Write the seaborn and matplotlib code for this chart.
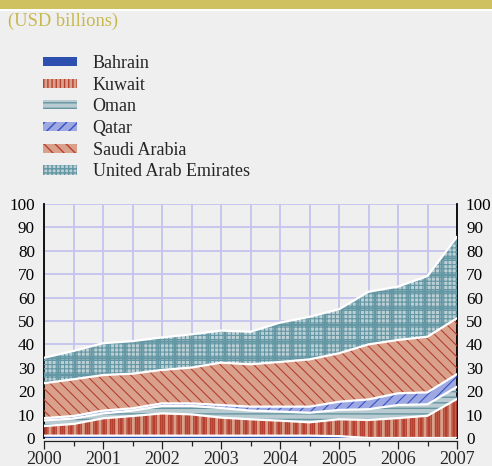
import numpy as np
import pandas as pd
import matplotlib
matplotlib.use("Agg")
import matplotlib.pyplot as plt
from matplotlib.patches import Patch, Rectangle
from matplotlib.ticker import MultipleLocator
import seaborn as sns

# ---- data (USD billions, half-yearly) ----
periods = [2000.0, 2000.5, 2001.0, 2001.5, 2002.0, 2002.5, 2003.0, 2003.5,
           2004.0, 2004.5, 2005.0, 2005.5, 2006.0, 2006.5, 2007.0]
countries = ["Bahrain", "Kuwait", "Oman", "Qatar", "Saudi Arabia", "United Arab Emirates"]
bahrain = [1.0, 1.0, 1.0, 1.0, 1.0, 1.0, 1.0, 1.0, 1.0, 1.0, 0.8, 0.0, 0.0, 0.0, 0.0]
kuwait = [4.1, 5.0, 7.4, 8.4, 9.5, 9.1, 7.7, 7.0, 6.4, 5.7, 7.2, 7.7, 8.5, 9.5, 16.7]
oman = [2.4, 2.3, 2.1, 2.3, 3.2, 3.6, 4.1, 3.7, 3.9, 4.1, 4.0, 4.6, 5.6, 4.9, 5.2]
qatar = [1.0, 1.1, 1.2, 1.0, 1.1, 1.1, 1.3, 1.7, 2.1, 2.6, 3.5, 4.2, 5.0, 5.1, 5.4]
saudi = [14.9, 15.7, 15.2, 14.8, 14.3, 15.3, 18.1, 18.1, 19.1, 20.2, 20.7, 23.5, 22.8, 23.8, 23.9]
uae = [10.9, 12.1, 13.6, 13.9, 13.9, 14.2, 13.7, 13.9, 16.8, 18.2, 18.8, 22.5, 22.8, 25.9, 34.8]
year_labels = ["2000", "2001", "2002", "2003", "2004", "2005", "2006", "2007"]

series = [bahrain, kuwait, oman, qatar, saudi, uae]

# ---- styles ----
fills = ["#2d50b0", "#d9a08c", "#b8cbd0", "#9ea8e2", "#d9a08c", "#bccfd5"]
hatch_cols = ["#2d50b0", "#b5402f", "#6796a3", "#3552c0", "#b5402f", "#6397a4"]
# (pattern, hatch linewidth) layers per series
hatch_layers = [
    [],
    [("||||", 0.9), ("||", 1.8)],
    [("---", 1.0)],
    [("///", 0.8)],
    [("\\\\\\", 0.8)],
    [("++++", 0.8), ("+", 1.6)],
]
BG = "#efefef"
GRID = "#c4c4ee"

sns.set_style("white")
plt.rcParams["font.family"] = ["Liberation Serif", "DejaVu Serif"]

fig = plt.figure(figsize=(4.92, 4.66), dpi=100, facecolor=BG)
ax = fig.add_axes([44 / 492, 1 - 438 / 466, (457 - 44) / 492, (438 - 204) / 466])
ax.set_facecolor(BG)

# header bar
fig.patches.append(Rectangle((0, 1 - 9 / 466), 1, 9 / 466, transform=fig.transFigure,
                             facecolor="#cfc060", edgecolor="none", zorder=0))
fig.patches.append(Rectangle((0, 1 - 11 / 466), 1, 2 / 466, transform=fig.transFigure,
                             facecolor="white", edgecolor="none", zorder=0))
fig.text(8 / 492, 1 - 21 / 466, "(USD billions)", color="#c8b850", fontsize=13.3,
         va="center", ha="left")

# stacked areas
x = np.array(periods)
cum = np.cumsum(np.array(series), axis=0)
lower = np.vstack([np.zeros(len(periods)), cum[:-1]])
for i, name in enumerate(countries):
    ax.fill_between(x, lower[i], cum[i], facecolor=fills[i], edgecolor="none",
                    linewidth=0, zorder=2)
    for pat, hlw in hatch_layers[i]:
        with plt.rc_context({"hatch.linewidth": hlw}):
            ax.fill_between(x, lower[i], cum[i], facecolor="none",
                            edgecolor=hatch_cols[i], hatch=pat, linewidth=0, zorder=3)

# white boundaries
df = pd.DataFrame({"period": np.tile(x, len(countries)),
                   "top": cum.ravel(),
                   "country": np.repeat(countries, len(periods))})
sns.lineplot(data=df, x="period", y="top", units="country", estimator=None,
             color="white", linewidth=1.6, ax=ax, zorder=4, legend=False)

# axes styling
ax.set_xlim(periods[0], periods[-1])
ax.set_ylim(0, 100)
ax.xaxis.set_minor_locator(MultipleLocator(0.5))
ax.yaxis.set_major_locator(MultipleLocator(10))
ax.set_xticks([int(p) for p in periods if p == int(p)])
ax.set_xticklabels(year_labels)
ax.set_xlabel("")
ax.set_ylabel("")
ax.grid(True, which="both", axis="x", color=GRID, linewidth=1.3, zorder=0)
ax.grid(True, which="major", axis="y", color=GRID, linewidth=1.3, zorder=0)
ax.set_axisbelow(True)

for s in ["left", "right"]:
    ax.spines[s].set_visible(True)
    ax.spines[s].set_color("black")
    ax.spines[s].set_linewidth(1.3)
ax.spines["top"].set_visible(False)
ax.spines["bottom"].set_visible(True)
ax.spines["bottom"].set_color("#222222")
ax.spines["bottom"].set_linewidth(0.9)
ax.spines["bottom"].set_position(("outward", 2))

ax.tick_params(axis="y", which="both", left=False, right=False, labelleft=True,
               labelright=True, labelsize=12.3, pad=3, colors="black")
ax.tick_params(axis="x", which="major", bottom=True, length=6, width=0.9,
               labelsize=13, pad=1, color="#222222")
ax.tick_params(axis="x", which="minor", bottom=True, length=3.5, width=0.9,
               color="#222222")

# legend
handles = []
for i, name in enumerate(countries):
    pat = hatch_layers[i][0][0] if hatch_layers[i] else None
    handles.append(Patch(facecolor=fills[i], edgecolor=hatch_cols[i],
                         hatch=pat, linewidth=0, label=name))
fig.legend(handles=handles, loc="upper left",
           bbox_to_anchor=(43 / 492, 1 - 55 / 466), frameon=False, fontsize=13,
           handlelength=1.9, handleheight=0.4, handletextpad=0.85,
           labelspacing=0.26, borderpad=0, borderaxespad=0)

fig.savefig("out.png", dpi=100, facecolor=BG)
